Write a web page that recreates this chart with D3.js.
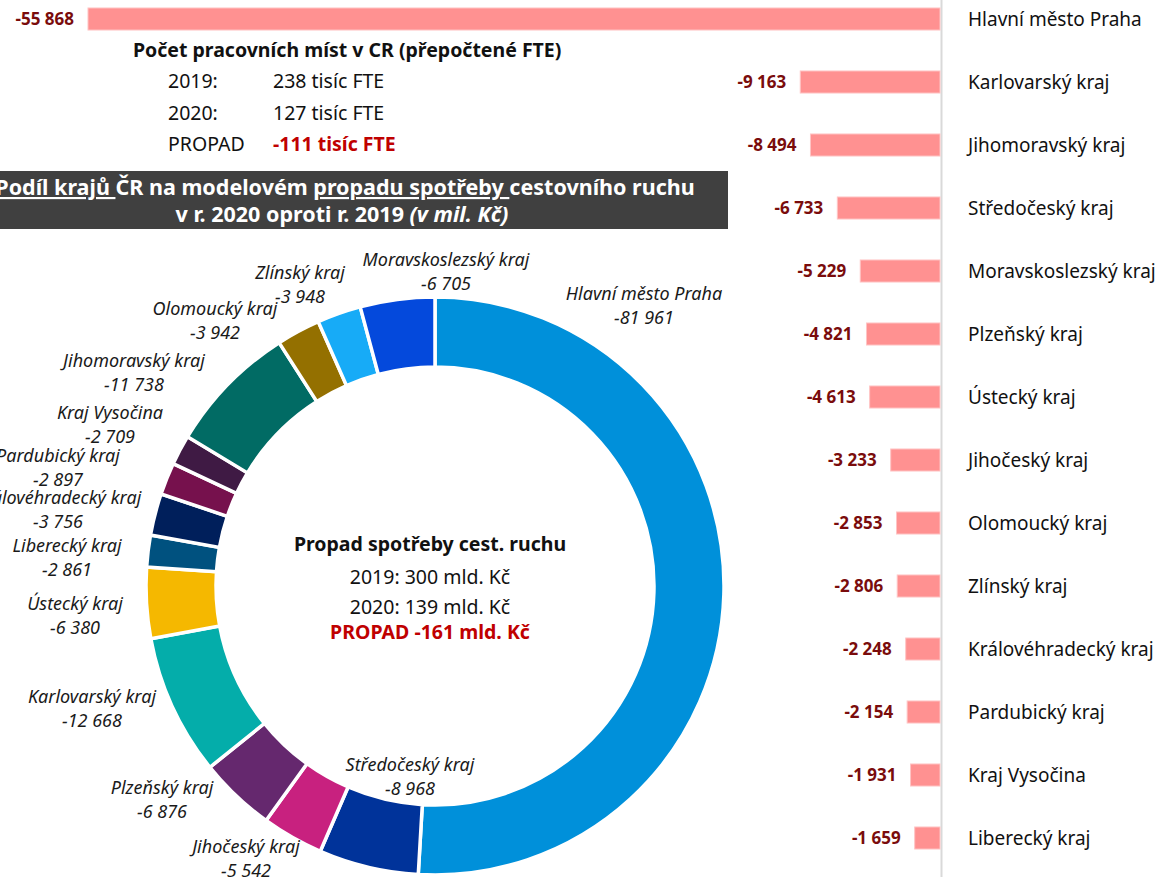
<!DOCTYPE html>
<html>
<head>
<meta charset="utf-8">
<script src="https://cdn.jsdelivr.net/npm/d3@7"></script>
<style>
  body { margin: 0; background: #fff; }
  svg { display: block; font-family: "Noto Sans", "Open Sans", sans-serif; }
</style>
</head>
<body>
<div id="chart"></div>
<script>
//------------------------------- DATA -----------------------------------------
// bar chart (right) - regions and values
var barRegions = ["Hlavní město Praha", "Karlovarský kraj", "Jihomoravský kraj", "Středočeský kraj",
    "Moravskoslezský kraj", "Plzeňský kraj", "Ústecký kraj", "Jihočeský kraj", "Olomoucký kraj",
    "Zlínský kraj", "Královéhradecký kraj", "Pardubický kraj", "Kraj Vysočina", "Liberecký kraj"];
var barValues = [-55868, -9163, -8494, -6733, -5229, -4821, -4613, -3233, -2853, -2806, -2248, -2154, -1931, -1659];

// donut (left) - clockwise from 12 o'clock
var pieRegions = ["Hlavní město Praha", "Středočeský kraj", "Jihočeský kraj", "Plzeňský kraj",
    "Karlovarský kraj", "Ústecký kraj", "Liberecký kraj", "Královéhradecký kraj", "Pardubický kraj",
    "Kraj Vysočina", "Jihomoravský kraj", "Olomoucký kraj", "Zlínský kraj", "Moravskoslezský kraj"];
var pieValues = [-81961, -8968, -5542, -6876, -12668, -6380, -2861, -3756, -2897, -2709, -11738, -3942, -3948, -6705];
var pieColors = ["#0090da", "#00339a", "#c8217f", "#65286e", "#04adaa", "#f5b800", "#00517f",
    "#001f5b", "#76114d", "#3f1a44", "#016b64", "#947000", "#17abf7", "#0449dc"];

// text blocks
var jobsTitle = "Počet pracovních míst v CR (přepočtené FTE)";
var jobsRows = [["2019:", "238 tisíc FTE"], ["2020:", "127 tisíc FTE"], ["PROPAD", "-111 tisíc FTE"]];
var centerLines = ["Propad spotřeby cest. ruchu", "2019: 300 mld. Kč", "2020: 139 mld. Kč", "PROPAD -161 mld. Kč"];

var width = 1158;
var height = 877;

// czech style: space as thousands separator, plain hyphen as minus
var czLocale = d3.formatLocale({ decimal: ",", thousands: " ", grouping: [3], currency: ["", ""], minus: "-" });
var fmt = czLocale.format(",");

var svg = d3.select("#chart").append("svg")
    .attr("width", width)
    .attr("height", height);

//------------------------------- BAR CHART ------------------------------------
var axisX = 940;
var xScale = d3.scaleLinear().domain([d3.min(barValues), 0]).range([88, axisX]);
var yScale = d3.scaleBand().domain(barRegions).range([-12.5, 869.5]).paddingInner(0.65).paddingOuter(0.325);

svg.append("line")
    .attr("x1", axisX + 1.5).attr("x2", axisX + 1.5)
    .attr("y1", 0).attr("y2", height)
    .attr("stroke", "#d9d9d9").attr("stroke-width", 2);

var bars = svg.append("g").selectAll("g")
    .data(barRegions)
    .enter().append("g");

bars.append("rect")
    .attr("x", function(d, i) { return xScale(barValues[i]); })
    .attr("y", function(d) { return yScale(d); })
    .attr("width", function(d, i) { return axisX - xScale(barValues[i]); })
    .attr("height", yScale.bandwidth())
    .attr("fill", "#ff9191")
    .attr("stroke", "#ffc4c4")
    .attr("stroke-width", 1);

bars.append("text")
    .attr("x", function(d, i) { return xScale(barValues[i]) - 14; })
    .attr("y", function(d) { return yScale(d) + yScale.bandwidth() / 2; })
    .attr("dy", "0.36em")
    .attr("text-anchor", "end")
    .attr("font-size", 17)
    .attr("font-weight", "bold")
    .attr("fill", "#7a0c0c")
    .text(function(d, i) { return fmt(barValues[i]); });

bars.append("text")
    .attr("x", 968)
    .attr("y", function(d) { return yScale(d) + yScale.bandwidth() / 2; })
    .attr("dy", "0.36em")
    .attr("font-size", 19)
    .attr("fill", "#111")
    .text(function(d) { return d; });

//------------------------------- JOBS BLOCK -----------------------------------
svg.append("text")
    .attr("x", 133).attr("y", 57)
    .attr("font-size", 19.5).attr("font-weight", "bold").attr("fill", "#111")
    .text(jobsTitle);

jobsRows.forEach(function(r, i) {
    var y = 88 + i * 31.5;
    svg.append("text").attr("x", 168).attr("y", y)
        .attr("font-size", 19.5).attr("fill", "#111").text(r[0]);
    svg.append("text").attr("x", 273).attr("y", y)
        .attr("font-size", 19.5)
        .attr("font-weight", i === 2 ? "bold" : "normal")
        .attr("fill", i === 2 ? "#c00000" : "#111")
        .text(r[1]);
});

//------------------------------- TITLE BOX ------------------------------------
svg.append("rect")
    .attr("x", 0).attr("y", 171).attr("width", 728).attr("height", 58)
    .attr("fill", "#404040");

var t1 = svg.append("text")
    .attr("x", 345).attr("y", 195)
    .attr("text-anchor", "middle")
    .attr("font-size", 21.5).attr("font-weight", "bold").attr("fill", "#fff")
    .style("white-space", "pre");
t1.append("tspan").style("text-decoration", "underline").text("Podíl krajů ");
t1.append("tspan").text("ČR na modelovém ");
t1.append("tspan").style("text-decoration", "underline").text("propadu spotřeby ");
t1.append("tspan").text("cestovního ruchu");

var t2 = svg.append("text")
    .attr("x", 342).attr("y", 222)
    .attr("text-anchor", "middle")
    .attr("font-size", 21.5).attr("font-weight", "bold").attr("fill", "#fff")
    .style("white-space", "pre");
t2.append("tspan").text("v r. 2020 oproti r. 2019 ");
t2.append("tspan").attr("font-style", "italic").text("(v mil. Kč)");

//------------------------------- DONUT ----------------------------------------
var cx = 435, cy = 586;
var outerR = 289, innerR = 219;

var pie = d3.pie().sort(null).value(function(d) { return Math.abs(d); });
var arc = d3.arc().innerRadius(innerR).outerRadius(outerR);

var donut = svg.append("g").attr("transform", "translate(" + cx + "," + cy + ")");

donut.selectAll("path")
    .data(pie(pieValues))
    .enter().append("path")
    .attr("d", arc)
    .attr("fill", function(d, i) { return pieColors[i]; })
    .attr("stroke", "#fff")
    .attr("stroke-width", 3.5)
    .attr("stroke-linejoin", "miter");

// label anchors (name baseline centre), placed like the original outside labels
var labelAt = [[644, 300], [410, 771], [246, 853], [162, 794], [92, 703], [75, 610], [67, 552],
    [58, 504], [58, 462], [110, 419], [134, 367], [215, 315], [300, 279], [446, 266]];

var labels = svg.append("g").selectAll("g")
    .data(pieRegions)
    .enter().append("g")
    .attr("font-size", 18)
    .attr("font-style", "italic")
    .attr("fill", "#1a1a1a")
    .attr("text-anchor", "middle");

labels.append("text")
    .attr("x", function(d, i) { return labelAt[i][0]; })
    .attr("y", function(d, i) { return labelAt[i][1]; })
    .text(function(d) { return d; });

labels.append("text")
    .attr("x", function(d, i) { return labelAt[i][0]; })
    .attr("y", function(d, i) { return labelAt[i][1] + 23.5; })
    .text(function(d, i) { return fmt(pieValues[i]); });

// centre text
centerLines.forEach(function(s, i) {
    svg.append("text")
        .attr("x", 430)
        .attr("y", [551, 584, 614, 639][i])
        .attr("text-anchor", "middle")
        .attr("font-size", 19.5)
        .attr("font-weight", i === 0 || i === 3 ? "bold" : "normal")
        .attr("fill", i === 3 ? "#c00000" : "#111")
        .text(s);
});
</script>
</body>
</html>
